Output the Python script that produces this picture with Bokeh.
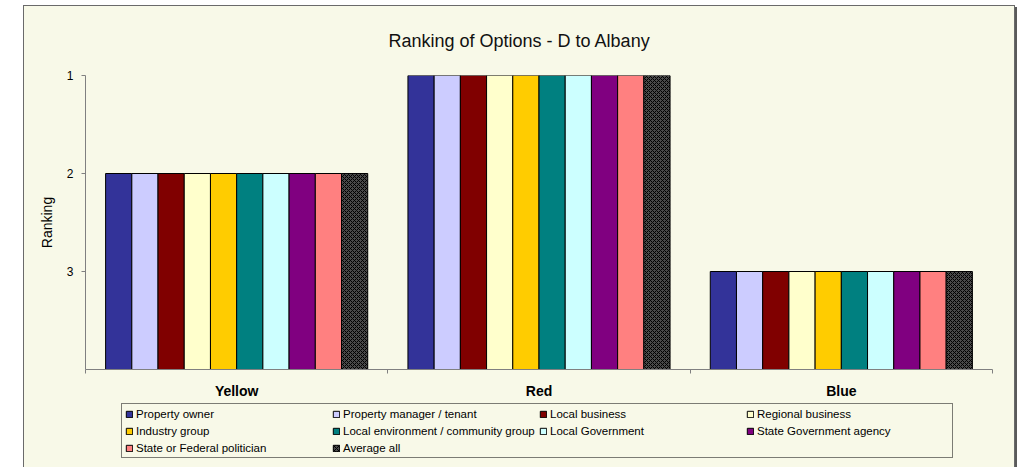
from bokeh.plotting import figure
from bokeh.layouts import column
from bokeh.models import Range1d, FixedTicker, Legend, LegendItem
from bokeh.embed import file_html
from bokeh.resources import INLINE

categories = ["Yellow", "Red", "Blue"]
series = ["Property owner", "Property manager / tenant", "Local business", "Regional business",
          "Industry group", "Local environment / community group", "Local Government",
          "State Government agency", "State or Federal politician", "Average all"]
colors = ["#333399", "#CCCCFF", "#800000", "#FFFFCC", "#FFCC00",
          "#008080", "#CCFFFF", "#800080", "#FF8080", "#4A4A4A"]
property_owner = [2, 1, 3]
property_manager = [2, 1, 3]
local_business = [2, 1, 3]
regional_business = [2, 1, 3]
industry_group = [2, 1, 3]
local_env = [2, 1, 3]
local_gov = [2, 1, 3]
state_gov = [2, 1, 3]
politician = [2, 1, 3]
average_all = [2, 1, 3]
values = [property_owner, property_manager, local_business, regional_business, industry_group,
          local_env, local_gov, state_gov, politician, average_all]
y_ticks = [1, 2, 3]

BG = "#F8F9E8"
FONT = "Liberation Sans"
AX = "#808080"

p = figure(width=990, height=395, x_range=Range1d(0, len(categories)), y_range=Range1d(4, 1),
           output_backend="svg", toolbar_location=None,
           min_border_left=61, min_border_right=22, min_border_top=69, min_border_bottom=31,
           background_fill_color=BG, border_fill_color=BG, outline_line_color=None)

p.title.text = "Ranking of Options - D to Albany"
p.title.text_font = FONT
p.title.text_font_size = "18px"
p.title.text_font_style = "normal"
p.title.text_color = "#111111"
p.title.align = "left"
p.title.offset = 303
p.title.vertical_align = "top"
p.title.standoff = 46

group = 0.867
bw = group / len(series)
hatch = dict(hatch_pattern="x", hatch_color="#000000", hatch_scale=4, hatch_weight=1)
for j, (name, col, vals) in enumerate(zip(series, colors, values)):
    xs = [i + 0.5 + (j - (len(series) - 1) / 2) * bw for i in range(len(categories))]
    kw = hatch if name == "Average all" else {}
    p.vbar(x=xs, width=bw, top=vals, bottom=4, fill_color=col, line_color="black",
           line_width=1, **kw)

p.xgrid.visible = False
p.ygrid.visible = False

xa = p.xaxis[0]
xa.ticker = FixedTicker(ticks=[i + 0.5 for i in range(len(categories))],
                        minor_ticks=list(range(len(categories) + 1)))
xa.major_label_overrides = {i + 0.5: c for i, c in enumerate(categories)}
xa.major_tick_line_color = None
xa.major_tick_out = 4
xa.major_tick_in = 0
xa.minor_tick_out = 4
xa.minor_tick_in = 0
xa.minor_tick_line_color = AX
xa.axis_line_color = AX
xa.major_label_text_font = FONT
xa.major_label_text_font_size = "14px"
xa.major_label_text_font_style = "bold"
xa.major_label_text_color = "#000000"
xa.major_label_standoff = 9

ya = p.yaxis[0]
ya.ticker = FixedTicker(ticks=y_ticks, minor_ticks=[])
ya.axis_label = "Ranking"
ya.axis_label_text_font = FONT
ya.axis_label_text_font_size = "14px"
ya.axis_label_text_font_style = "normal"
ya.axis_label_text_color = "#000000"
ya.axis_label_standoff = 9
ya.major_tick_out = 4
ya.major_tick_in = 0
ya.major_tick_line_color = AX
ya.axis_line_color = AX
ya.minor_tick_line_color = None
ya.major_label_text_font = FONT
ya.major_label_text_font_size = "12px"
ya.major_label_text_color = "#000000"
ya.major_label_standoff = 8

# legend strip: swatch renderers styled like the bars; their single tiny mark sits
# underneath the opaque legend box
lp = figure(width=990, height=66, x_range=Range1d(0, 1), y_range=Range1d(0, 1),
            output_backend="svg", toolbar_location=None, x_axis_type=None, y_axis_type=None,
            min_border_left=0, min_border_right=0, min_border_top=0, min_border_bottom=0,
            background_fill_color=BG, border_fill_color=BG, outline_line_color=None)
lp.xgrid.visible = False
lp.ygrid.visible = False
items = []
for name, col in zip(series, colors):
    kw = hatch if name == "Average all" else {}
    r = lp.vbar(x=[0.5], width=0.005, top=[0.55], bottom=0.45, fill_color=col,
                line_color="black", line_width=1, **kw)
    items.append(LegendItem(label=name, renderers=[r]))

legend = Legend(items=items, orientation="horizontal", ncols=4, location=(36, 9),
                label_text_font=FONT, label_text_font_size="11.5px", label_text_color="#000000",
                glyph_width=8, glyph_height=8, label_width=192, label_height=13,
                label_standoff=3, spacing=4, padding=3, margin=0,
                border_line_color="black", border_line_width=1,
                background_fill_color=BG, background_fill_alpha=1)
lp.add_layout(legend, "center")

layout = column(p, lp, spacing=0)
layout.margin = (6, 0, 0, 24)
layout.styles = {"box-shadow": "0 0 0 1px #6a6a6a, 2px 2px 0 1px #5a5a5a",
                 "background-color": BG}

open("out.html", "w").write(file_html(layout, INLINE))
